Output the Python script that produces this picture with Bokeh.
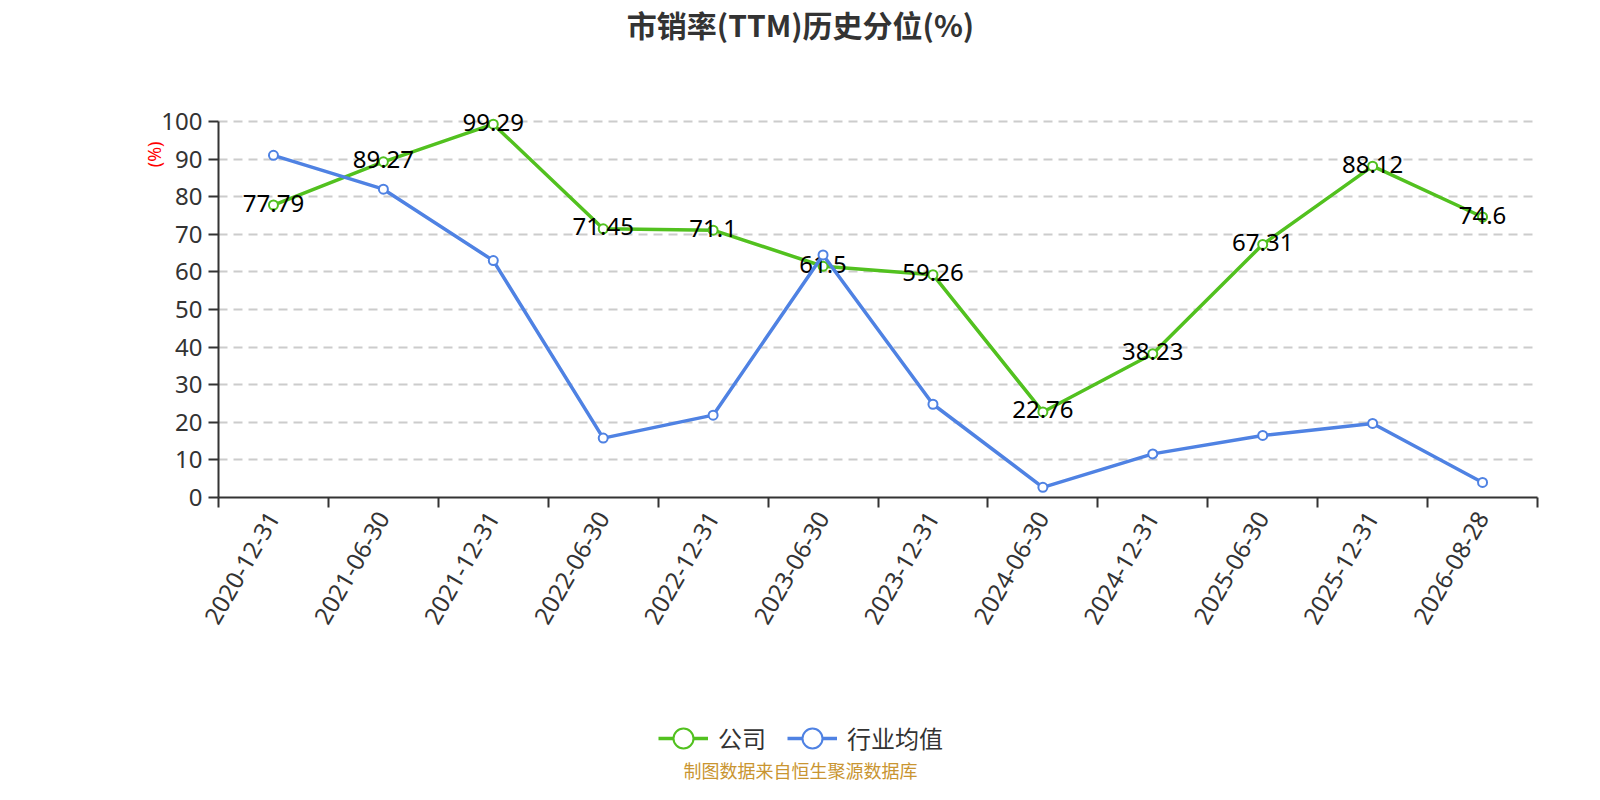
import math
from bokeh.plotting import figure
from bokeh.layouts import column
from bokeh.models import (Range1d, FixedTicker, Legend, LegendItem, ColumnDataSource,
                          Title, Label)
from bokeh.core.properties import value
from bokeh.embed import file_html
from bokeh.resources import INLINE

# ---- data ----
categories = ["2020-12-31", "2021-06-30", "2021-12-31", "2022-06-30", "2022-12-31",
              "2023-06-30", "2023-12-31", "2024-06-30", "2024-12-31", "2025-06-30",
              "2025-12-31", "2026-08-28"]
company = [77.79, 89.27, 99.29, 71.45, 71.1, 61.5, 59.26, 22.76, 38.23, 67.31, 88.12, 74.6]
industry = [91.0, 82.0, 63.0, 15.8, 21.9, 64.5, 24.8, 2.7, 11.6, 16.5, 19.7, 4.0]
y_ticks = [0, 10, 20, 30, 40, 50, 60, 70, 80, 90, 100]
series_names = ["公司", "行业均值"]
title_text = "市销率(TTM)历史分位(%)"
y_name = "(%)"
footer_text = "制图数据来自恒生聚源数据库"

GREEN = "#52c11f"
BLUE = "#4f82e3"
AXIS = "#333333"
CJK = "Noto Sans CJK SC"
LAT = "Noto Sans"

n = len(categories)
idx = list(range(n))

W = 1584
H1 = 648          # main chart
H2 = 784 - H1     # legend + footer strip
LEFT, RIGHT = 218, 47
FRAME_B = 497                 # pixel row of value 0
PX_PER_UNIT = 3.76            # pixels per 1 %
BOTTOM = H1 - FRAME_B
Y_MAX = FRAME_B / PX_PER_UNIT  # frame reaches the top edge, so the title fits inside
FW = W - LEFT - RIGHT

def data_x(px):
    return (px - LEFT) / FW * n - 0.5

def data_y(py):
    return (FRAME_B - py) / PX_PER_UNIT

p = figure(width=W, height=H1, output_backend="svg", toolbar_location=None,
           title_location=None,
           x_range=Range1d(-0.5, n - 0.5), y_range=Range1d(0, Y_MAX),
           min_border_left=LEFT, min_border_right=RIGHT,
           min_border_top=0, min_border_bottom=BOTTOM)
p.outline_line_color = None
p.background_fill_color = "white"
p.border_fill_color = "white"
p.xgrid.visible = False

# y axis
p.yaxis.ticker = FixedTicker(ticks=y_ticks)
p.yaxis.bounds = (y_ticks[0], y_ticks[-1])
p.yaxis.axis_line_color = AXIS
p.yaxis.axis_line_width = 2
p.yaxis.major_tick_line_color = AXIS
p.yaxis.major_tick_line_width = 2
p.yaxis.major_tick_out = 10
p.yaxis.major_tick_in = 0
p.yaxis.minor_tick_line_color = None
p.yaxis.major_label_text_font = LAT
p.yaxis.major_label_text_font_size = "24px"
p.yaxis.major_label_text_color = AXIS
p.yaxis.major_label_standoff = 6

p.ygrid.ticker = FixedTicker(ticks=y_ticks[1:])
p.ygrid.grid_line_color = "#cccccc"
p.ygrid.grid_line_width = 2
p.ygrid.grid_line_dash = "9 6"

# x axis (category labels at band centres, ticks at band boundaries)
p.xaxis.ticker = FixedTicker(ticks=idx, minor_ticks=[i - 0.5 for i in range(n + 1)])
p.xaxis.major_label_overrides = {i: c for i, c in zip(idx, categories)}
p.xaxis.major_label_orientation = math.pi / 3
p.xaxis.major_label_text_font = LAT
p.xaxis.major_label_text_font_size = "24px"
p.xaxis.major_label_text_color = AXIS
p.xaxis.major_label_standoff = 6
p.xaxis.axis_line_color = AXIS
p.xaxis.axis_line_width = 2
p.xaxis.major_tick_line_color = None
p.xaxis.major_tick_out = 10
p.xaxis.major_tick_in = 0
p.xaxis.minor_tick_line_color = AXIS
p.xaxis.minor_tick_line_width = 2
p.xaxis.minor_tick_out = 10
p.xaxis.minor_tick_in = 0

src = ColumnDataSource(dict(x=idx, company=company, industry=industry,
                            lbl=[str(v) for v in company]))

line_kw = dict(line_width=3.5)
pt_kw = dict(size=9, fill_color="white", line_width=2)

p.line("x", "company", source=src, line_color=GREEN, **line_kw)
p.scatter("x", "company", source=src, line_color=GREEN, **pt_kw)
p.text("x", "company", text="lbl", source=src, text_align="center",
       text_baseline="middle", y_offset=-2, text_font=value(LAT),
       text_font_size="24px", text_color="#000000")
p.line("x", "industry", source=src, line_color=BLUE, **line_kw)
p.scatter("x", "industry", source=src, line_color=BLUE, **pt_kw)

# chart title (inside the frame's empty top area)
p.add_layout(Label(x=data_x(800), y=data_y(23), text=title_text, text_align="center",
                   text_baseline="middle", text_font=CJK, text_font_size="30px",
                   text_font_style="bold", text_color="#333333"))

# y-axis name, on the left side
p.add_layout(Title(text=y_name, align="right", offset=141, standoff=-14, text_font=LAT,
                   text_font_size="18px", text_font_style="normal",
                   text_color="#ff0000"), "left")

# ---- legend + footer strip (its frame is aligned with the chart frame) ----
q = figure(width=W, height=H2, output_backend="svg", toolbar_location=None,
           title_location=None,
           x_range=Range1d(LEFT, W - RIGHT), y_range=Range1d(H2, 0),
           x_axis_location=None, y_axis_location=None,
           min_border_left=LEFT, min_border_right=RIGHT,
           min_border_top=0, min_border_bottom=0)
q.outline_line_color = None
q.background_fill_color = "white"
q.border_fill_color = "white"
q.grid.visible = False

# hidden copies of the two series, only used to draw the legend symbols
lg_g_line = q.line("x", "company", source=src, line_color=GREEN, visible=False, **line_kw)
lg_g_pt = q.scatter("x", "company", source=src, line_color=GREEN, visible=False, **pt_kw)
lg_b_line = q.line("x", "industry", source=src, line_color=BLUE, visible=False, **line_kw)
lg_b_pt = q.scatter("x", "industry", source=src, line_color=BLUE, visible=False, **pt_kw)

legend = Legend(items=[LegendItem(label=series_names[0], renderers=[lg_g_line, lg_g_pt]),
                       LegendItem(label=series_names[1], renderers=[lg_b_line, lg_b_pt])],
                orientation="horizontal", location=(658 - LEFT, H2 - (762.7 - H1)),
                glyph_width=50, glyph_height=50, label_standoff=10, spacing=21,
                padding=0, margin=0, border_line_color=None,
                background_fill_alpha=0, inactive_fill_alpha=0,
                label_text_font=CJK,
                label_text_font_size="24px", label_text_color="#333333")
q.add_layout(legend, "center")

q.add_layout(Label(x=800, y=769 - H1, text=footer_text, text_align="center",
                   text_baseline="middle", text_font=CJK, text_font_size="18px",
                   text_color="#c99531"))

open("out.html", "w").write(file_html(column(p, q, spacing=0), INLINE))
